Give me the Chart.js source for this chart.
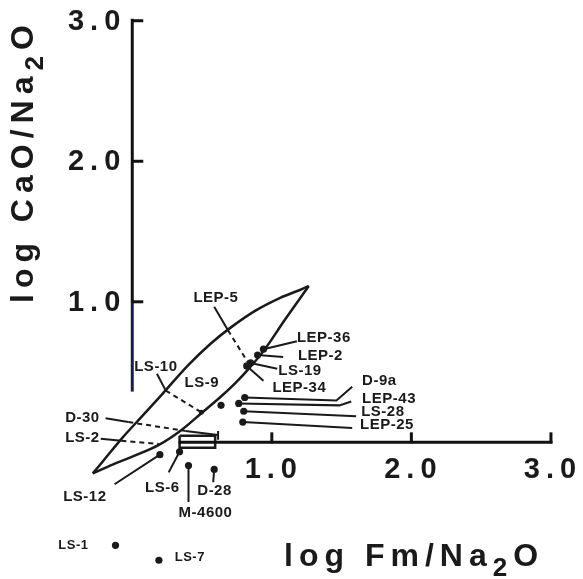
<!DOCTYPE html>
<html lang="en">
<head>
<meta charset="utf-8" />
<title>log CaO/Na2O vs log Fm/Na2O</title>
<script src="https://cdn.jsdelivr.net/npm/chart.js"></script>
<style>
  html, body { margin: 0; padding: 0; background: #fff; }
  canvas { display: block; }
</style>
</head>
<body>
<canvas id="chart" width="583" height="579"></canvas>
<script>
// axes
const xTicks = [1.0, 2.0, 3.0];
const yTicks = [1.0, 2.0, 3.0];
const xAxisSpan = [0.332, 3.0];   // drawn part of the x axis
const yAxisSpan = [0.361, 3.014]; // drawn part of the y axis

// outline of the field (upper and lower branch)
const upperX = [-0.283, -0.212, -0.071, 0.071, 0.212, 0.403, 0.565, 0.707, 0.883, 1.060, 1.201, 1.265];
const upperY = [-0.221, -0.137, 0.032, 0.186, 0.340, 0.551, 0.705, 0.818, 0.937, 1.028, 1.084, 1.112];
const lowerX = [-0.283, -0.141, 0.000, 0.191, 0.353, 0.495, 0.636, 0.742, 0.834, 0.940, 1.095, 1.265];
const lowerY = [-0.221, -0.158, -0.102, -0.018, 0.088, 0.207, 0.326, 0.425, 0.523, 0.649, 0.874, 1.112];

// small box near the origin
const boxX = [0.339, 0.594, 0.594, 0.339, 0.339];
const boxY = [0.046, 0.046, -0.039, -0.039, 0.046];

// samples
const sampleNames = ['LEP-36', 'LEP-2', 'LS-19', 'LEP-34', 'D-9a', 'LEP-43', 'LS-28', 'LEP-25',
                     'LS-12', 'LS-6', 'M-4600', 'D-28', 'LS-1', 'LS-7', '', 'LS-9'];
const sampleX = [0.940, 0.898, 0.848, 0.820, 0.806, 0.763, 0.799, 0.792,
                 0.198, 0.339, 0.403, 0.587, -0.120, 0.191, 0.636, 0.495];
const sampleY = [0.663, 0.621, 0.565, 0.544, 0.319, 0.277, 0.221, 0.144,
                 -0.088, -0.067, -0.165, -0.193, -0.733, -0.839, 0.263, 0.214];

// labels (left edge, middle)
const labelText = ['LEP-5', 'LEP-36', 'LEP-2', 'LS-19', 'LEP-34', 'LS-10', 'LS-9', 'D-9a', 'LEP-43',
                   'LS-28', 'LEP-25', 'D-30', 'LS-2', 'LS-12', 'LS-6', 'D-28', 'M-4600', 'LS-1', 'LS-7'];
const labelX = [0.438, 1.180, 1.187, 1.046, 1.004, 0.014, 0.375, 1.647, 1.647,
                1.640, 1.632, -0.481, -0.481, -0.495, 0.092, 0.466, 0.332, -0.530, 0.304];
const labelY = [1.028, 0.740, 0.614, 0.509, 0.389, 0.537, 0.425, 0.439, 0.312,
                0.214, 0.123, 0.172, 0.032, -0.389, -0.326, -0.347, -0.502, -0.733, -0.818];

// leader lines
const leaderX = [
  [0.940, 1.180], [0.898, 1.081], [0.848, 1.039], [0.820, 0.940],
  [0.587, 0.686], [0.686, 0.827],
  [0.177, 0.240], [0.240, 0.495],
  [-0.191, -0.028], [-0.028, 0.382], [0.382, 0.615], [0.615, 0.615],
  [-0.226, -0.078], [-0.078, 0.191],
  [0.806, 1.463, 1.576], [0.763, 1.484, 1.569], [0.799, 1.604], [0.792, 1.576],
  [0.198, -0.127], [0.339, 0.261], [0.403, 0.403], [0.587, 0.580]
];
const leaderY = [
  [0.663, 0.719], [0.621, 0.607], [0.565, 0.523], [0.544, 0.439],
  [0.965, 0.797], [0.797, 0.572],
  [0.488, 0.368], [0.368, 0.214],
  [0.172, 0.144], [0.144, 0.081], [0.081, 0.053], [0.081, 0.018],
  [0.025, 0.011], [0.011, -0.011],
  [0.319, 0.298, 0.396], [0.277, 0.263, 0.291], [0.221, 0.186], [0.144, 0.102],
  [-0.088, -0.298], [-0.067, -0.214], [-0.165, -0.425], [-0.193, -0.284]
];
const leaderDashed = [
  false, false, false, false,
  false, true,
  false, true,
  false, true, false, false,
  false, true,
  false, false, false, false,
  false, false, false, false
];

const ink = '#1a1a1a';
const pts = (xs, ys) => xs.map((v, i) => ({ x: v, y: ys[i] }));

const lineSet = (data, extra) => Object.assign({
  data: data, showLine: true, tension: 0, borderColor: ink, borderWidth: 2,
  pointRadius: 0, pointHoverRadius: 0
}, extra);

const datasets = [
  lineSet(pts(upperX, upperY), { tension: 0.35, borderWidth: 2.5 }),
  lineSet(pts(lowerX, lowerY), { tension: 0.35, borderWidth: 2.5 }),
  lineSet(pts(boxX, boxY), { borderWidth: 2.5 }),
  ...leaderX.map((xs, i) => lineSet(pts(xs, leaderY[i]), { borderDash: leaderDashed[i] ? [5, 4] : [] })),
  {
    data: pts(sampleX, sampleY),
    pointRadius: c => sampleNames[c.dataIndex] === 'LS-9' ? 2.5 : 3.6,
    pointBackgroundColor: ink,
    pointBorderWidth: 0
  }
];

function seg(ctx, x1, y1, x2, y2) {
  ctx.beginPath();
  ctx.moveTo(x1, y1);
  ctx.lineTo(x2, y2);
  ctx.stroke();
}

// draws the axis lines, ticks, tick labels, titles and sample labels
const overlay = {
  id: 'overlay',
  afterDatasetsDraw(chart) {
    const { ctx, scales: { x, y } } = chart;
    const px = v => x.getPixelForValue(v);
    const py = v => y.getPixelForValue(v);
    const x0 = px(0), y0 = py(0);
    ctx.save();

    // y axis
    ctx.lineWidth = 3;
    ctx.strokeStyle = '#111';
    seg(ctx, x0, py(yAxisSpan[1]), x0, py(1.0));
    ctx.strokeStyle = '#1c1c4a';
    seg(ctx, x0, py(1.0), x0, py(yAxisSpan[0]));
    ctx.strokeStyle = '#111';
    yTicks.forEach(t => seg(ctx, x0 - 1, py(t), x0 + 11, py(t)));

    // x axis
    seg(ctx, px(xAxisSpan[0]), y0, px(xAxisSpan[1]) + 1.5, y0);
    xTicks.forEach(t => seg(ctx, px(t), y0 + 1, px(t), y0 - 10));

    // tick labels
    ctx.fillStyle = ink;
    ctx.font = 'bold 29px "Liberation Sans", Arial, sans-serif';
    ctx.letterSpacing = '6px';
    ctx.textBaseline = 'middle';
    ctx.textAlign = 'right';
    yTicks.forEach(t => ctx.fillText(t.toFixed(1), x0 - 6, py(t) + 1));
    ctx.textAlign = 'center';
    xTicks.forEach(t => ctx.fillText(t.toFixed(1), px(t) + 2, y0 + 28));

    // axis titles with a lowered 2
    const big = 'bold 32px "Liberation Sans", Arial, sans-serif';
    const sub = 'bold 26px "Liberation Sans", Arial, sans-serif';
    const title = (pre, x1, y1) => {
      ctx.textAlign = 'left';
      ctx.textBaseline = 'alphabetic';
      ctx.letterSpacing = '6px';
      ctx.font = big;
      ctx.fillText(pre, x1, y1);
      let cx = x1 + ctx.measureText(pre).width;
      ctx.font = sub;
      ctx.fillText('2', cx, y1 + 10);
      cx += ctx.measureText('2').width;
      ctx.font = big;
      ctx.fillText('O', cx, y1);
    };
    title('log Fm/Na', 284, 566);
    ctx.save();
    ctx.translate(33, 303);
    ctx.rotate(-Math.PI / 2);
    title('log CaO/Na', 0, 0);
    ctx.restore();

    // sample labels
    ctx.textAlign = 'left';
    ctx.textBaseline = 'middle';
    ctx.letterSpacing = '0.5px';
    labelText.forEach((s, i) => {
      const small = s === 'LS-1' || s === 'LS-7';
      ctx.font = 'bold ' + (small ? '13px' : '15px') + ' "Liberation Sans", Arial, sans-serif';
      ctx.fillText(s, px(labelX[i]), py(labelY[i]));
    });
    ctx.restore();
  }
};

new Chart(document.getElementById('chart'), {
  type: 'scatter',
  data: { datasets: datasets },
  options: {
    responsive: false,
    animation: false,
    layout: { padding: 0 },
    plugins: { legend: { display: false }, tooltip: { enabled: false } },
    events: [],
    scales: {
      x: { type: 'linear', min: -0.919, max: 3.201, display: false },
      y: { type: 'linear', min: -0.944, max: 3.119, display: false }
    }
  },
  plugins: [overlay]
});
</script>
</body>
</html>
